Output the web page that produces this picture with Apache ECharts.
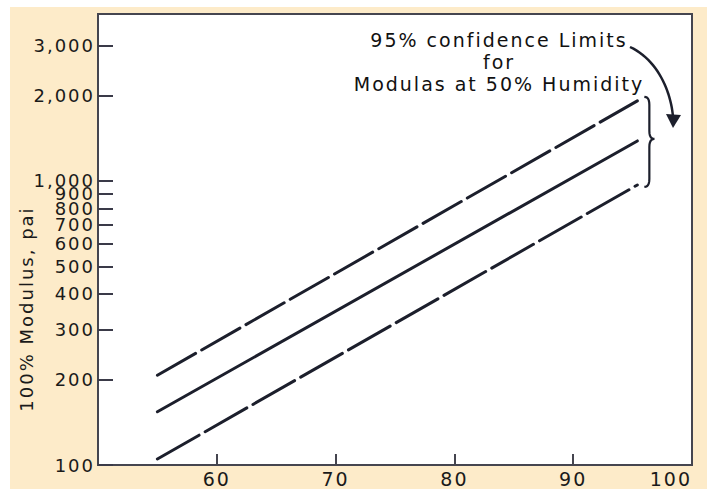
<!DOCTYPE html>
<html>
<head>
<meta charset="utf-8">
<script src="https://cdn.jsdelivr.net/npm/echarts@6/dist/echarts.min.js"></script>
<style>
  html, body { margin: 0; padding: 0; background: #ffffff; }
  #chart { position: absolute; left: 10px; top: 7px; width: 697px; height: 482px; }
  #chart text { letter-spacing: 2px; }
</style>
</head>
<body>
<div id="chart"></div>
<script>
// ---- data ----
const xEnds = [55, 95.4];
const upperLimit = [207, 1914];   // 95% upper confidence limit
const fitted = [154, 1383];       // regression line
const lowerLimit = [105, 968];    // 95% lower confidence limit

const xTickValues = [60, 70, 80, 90];
const xLabelValues = [60, 70, 80, 90, 100];
const yLabelValues = [100, 200, 300, 400, 500, 600, 700, 800, 900, 1000, 2000, 3000];

const yAxisTitle = '100% Modulus, pai';
const noteLines = ['95% confidence Limits', 'for', 'Modulas at 50% Humidity'];

const FONT = 'DejaVu Sans';
const INK = '#1c1f2c';

const pairs = arr => xEnds.map((x, i) => [x, arr[i]]);

const chart = echarts.init(document.getElementById('chart'), null, { renderer: 'svg' });
const option = {
  backgroundColor: '#fdebc9',
  animation: false,
  grid: {
    left: 88, right: 15, top: 7, bottom: 24,
    show: true, backgroundColor: '#ffffff',
    borderColor: '#45454f', borderWidth: 2
  },
  xAxis: {
    type: 'value', min: 50, max: 100,
    axisLine: { show: false },
    splitLine: { show: false },
    axisTick: {
      show: true, inside: true, length: 11,
      customValues: xTickValues,
      lineStyle: { color: '#45454f', width: 2 }
    },
    axisLabel: {
      customValues: xLabelValues,
      margin: 4,
      fontFamily: FONT, fontSize: 19, color: '#1a1a1a',
      alignMaxLabel: 'right'
    }
  },
  yAxis: {
    type: 'log', logBase: 10, min: 100, max: 3870,
    axisLine: { show: false },
    splitLine: { show: false },
    minorTick: { show: false },
    axisTick: {
      show: true, inside: true, length: 15,
      customValues: yLabelValues,
      lineStyle: { color: '#3a3a48', width: 2 }
    },
    axisLabel: {
      customValues: yLabelValues,
      margin: 3,
      fontFamily: FONT, fontSize: 18, color: '#1a1a1a',
      formatter: v => Number(v) >= 1000 ? Number(v).toLocaleString('en-US') : String(v)
    }
  },
  series: [
    {
      type: 'line', data: pairs(upperLimit), symbol: 'none',
      lineStyle: { color: INK, width: 3, type: [44, 7], cap: 'round' }
    },
    {
      type: 'line', data: pairs(fitted), symbol: 'none',
      lineStyle: { color: INK, width: 3, cap: 'round' }
    },
    {
      type: 'line', data: pairs(lowerLimit), symbol: 'none',
      lineStyle: { color: INK, width: 3, type: [48, 7], cap: 'round' }
    }
  ]
};
chart.setOption(option);

// ---- annotations ----
function quad(p0, c, p1, n) {
  const pts = [];
  for (let i = 0; i <= n; i++) {
    const t = i / n, u = 1 - t;
    pts.push([u * u * p0[0] + 2 * u * t * c[0] + t * t * p1[0], u * u * p0[1] + 2 * u * t * c[1] + t * t * p1[1]]);
  }
  return pts;
}
function cubic(p0, c1, c2, p1, n) {
  const pts = [];
  for (let i = 0; i <= n; i++) {
    const t = i / n, u = 1 - t;
    pts.push([
      u * u * u * p0[0] + 3 * u * u * t * c1[0] + 3 * u * t * t * c2[0] + t * t * t * p1[0],
      u * u * u * p0[1] + 3 * u * u * t * c1[1] + 3 * u * t * t * c2[1] + t * t * t * p1[1]
    ]);
  }
  return pts;
}

const pU = chart.convertToPixel({ gridIndex: 0 }, [xEnds[1], upperLimit[1]]);
const pM = chart.convertToPixel({ gridIndex: 0 }, [xEnds[1], fitted[1]]);
const pL = chart.convertToPixel({ gridIndex: 0 }, [xEnds[1], lowerLimit[1]]);
const bx = pU[0] + 7;
const y0 = pU[1] - 4, ym = pM[1] - 2, y1 = pL[1] + 2;
const brace = [].concat(
  quad([bx, y0], [bx + 5, y0], [bx + 5, y0 + 8], 6),
  quad([bx + 5, ym - 8], [bx + 5, ym], [bx + 10, ym], 6),
  quad([bx + 10, ym], [bx + 5, ym], [bx + 5, ym + 8], 6),
  quad([bx + 5, y1 - 8], [bx + 5, y1], [bx, y1], 6)
);

const OX = 10, OY = 7; // chart div offset on page
const arrowPts = cubic([630 - OX, 47 - OY], [658 - OX, 60 - OY], [671 - OX, 92 - OY], [673 - OX, 117 - OY], 24);

chart.setOption({
  graphic: [
    {
      type: 'text', x: 26 - OX, y: 309 - OY, rotation: Math.PI / 2,
      style: { text: yAxisTitle, font: `18px "${FONT}"`, fill: '#1a1a1a', align: 'center', verticalAlign: 'middle' }
    },
    {
      type: 'text', x: 499 - OX, y: 40 - OY,
      style: { text: noteLines[0], font: `19px "${FONT}"`, fill: '#111', align: 'center', verticalAlign: 'middle' }
    },
    {
      type: 'text', x: 499 - OX, y: 62 - OY,
      style: { text: noteLines[1], font: `19px "${FONT}"`, fill: '#111', align: 'center', verticalAlign: 'middle' }
    },
    {
      type: 'text', x: 499 - OX, y: 84 - OY,
      style: { text: noteLines[2], font: `19px "${FONT}"`, fill: '#111', align: 'center', verticalAlign: 'middle' }
    },
    {
      type: 'polyline',
      shape: { points: brace },
      style: { stroke: INK, lineWidth: 2.2, fill: null }
    },
    {
      type: 'polyline',
      shape: { points: arrowPts },
      style: { stroke: INK, lineWidth: 2.5, fill: null }
    },
    {
      type: 'polygon',
      shape: { points: [[666 - OX, 114 - OY], [681 - OX, 115 - OY], [673 - OX, 128 - OY]] },
      style: { fill: INK }
    }
  ]
});
</script>
</body>
</html>
